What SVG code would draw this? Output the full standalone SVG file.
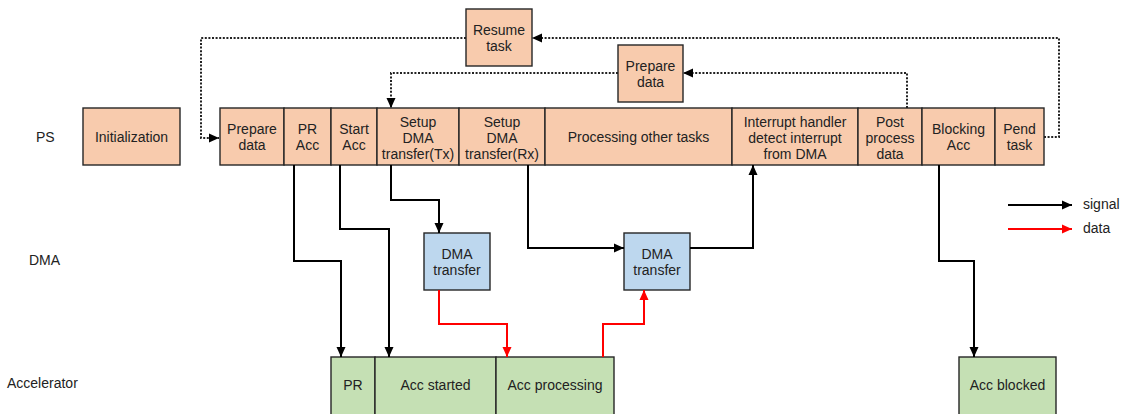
<svg xmlns="http://www.w3.org/2000/svg" width="1124" height="414" viewBox="0 0 1124 414">
<style>
text{font-family:"Liberation Sans",Arial,sans-serif;font-size:14px;fill:#222;text-anchor:middle;dominant-baseline:central}
.lbl{text-anchor:start}
.ps{fill:#F8CBAD;stroke:#262626;stroke-width:1.4}
.dma{fill:#BDD7EE;stroke:#262626;stroke-width:1.4}
.acc{fill:#C5E0B4;stroke:#262626;stroke-width:1.4}
.sig{fill:none;stroke:#000;stroke-width:2}
.dat{fill:none;stroke:#FF0000;stroke-width:2}
.dot{fill:none;stroke:#222;stroke-width:2;stroke-dasharray:2 1.6}
</style>
<defs>
<marker id="ab" markerUnits="userSpaceOnUse" markerWidth="10" markerHeight="10" refX="10" refY="5" orient="auto"><path d="M0,0.5 L10,5 L0,9.5 z" fill="#000"/></marker>
<marker id="ar" markerUnits="userSpaceOnUse" markerWidth="10" markerHeight="10" refX="10" refY="5" orient="auto"><path d="M0,0.5 L10,5 L0,9.5 z" fill="#FF0000"/></marker>
</defs>
<g id="lane-labels">
<text class="lbl" x="36" y="137">PS</text>
<text class="lbl" x="29" y="260">DMA</text>
<text class="lbl" x="7" y="383">Accelerator</text>
</g>
<g id="resume-task"><rect class="ps" x="466" y="9" width="66" height="57"/><text x="499" y="30">Resume</text><text x="499" y="46">task</text></g>
<g id="prepare-data-top"><rect class="ps" x="618" y="45" width="65" height="57"/><text x="650.5" y="66">Prepare</text><text x="650.5" y="82">data</text></g>
<g id="initialization"><rect class="ps" x="83" y="108" width="97" height="57"/><text x="131.5" y="137">Initialization</text></g>
<g id="prepare-data"><rect class="ps" x="220" y="108" width="64" height="57"/><text x="252" y="129">Prepare</text><text x="252" y="145">data</text></g>
<g id="pr-acc"><rect class="ps" x="284" y="108" width="47" height="57"/><text x="307.5" y="129">PR</text><text x="307.5" y="145">Acc</text></g>
<g id="start-acc"><rect class="ps" x="331" y="108" width="46" height="57"/><text x="354" y="129">Start</text><text x="354" y="145">Acc</text></g>
<g id="setup-tx"><rect class="ps" x="377" y="108" width="82" height="57"/><text x="418" y="121.5">Setup</text><text x="418" y="137.5">DMA</text><text x="418" y="153.5">transfer(Tx)</text></g>
<g id="setup-rx"><rect class="ps" x="459" y="108" width="86" height="57"/><text x="502" y="121.5">Setup</text><text x="502" y="137.5">DMA</text><text x="502" y="153.5">transfer(Rx)</text></g>
<g id="processing"><rect class="ps" x="545" y="108" width="187" height="57"/><text x="638.5" y="137">Processing other tasks</text></g>
<g id="interrupt"><rect class="ps" x="732" y="108" width="126" height="57"/><text x="795" y="121.5">Interrupt handler</text><text x="795" y="137.5">detect interrupt</text><text x="795" y="153.5">from DMA</text></g>
<g id="post-process"><rect class="ps" x="858" y="108" width="64" height="57"/><text x="890" y="121.5">Post</text><text x="890" y="137.5">process</text><text x="890" y="153.5">data</text></g>
<g id="blocking-acc"><rect class="ps" x="922" y="108" width="73" height="57"/><text x="958.5" y="129">Blocking</text><text x="958.5" y="145">Acc</text></g>
<g id="pend-task"><rect class="ps" x="995" y="108" width="49" height="57"/><text x="1019.5" y="129">Pend</text><text x="1019.5" y="145">task</text></g>
<g id="dma-transfer-1"><rect class="dma" x="424" y="233" width="66" height="57"/><text x="457" y="254">DMA</text><text x="457" y="270">transfer</text></g>
<g id="dma-transfer-2"><rect class="dma" x="624" y="233" width="66" height="57"/><text x="657" y="254">DMA</text><text x="657" y="270">transfer</text></g>
<g id="acc-pr"><rect class="acc" x="331" y="357" width="44" height="58"/><text x="353" y="385">PR</text></g>
<g id="acc-started"><rect class="acc" x="375" y="357" width="121" height="58"/><text x="435.5" y="385">Acc started</text></g>
<g id="acc-processing"><rect class="acc" x="496" y="357" width="118" height="58"/><text x="555" y="385">Acc processing</text></g>
<g id="acc-blocked"><rect class="acc" x="959" y="357" width="97" height="58"/><text x="1007.5" y="385">Acc blocked</text></g>
<g id="connectors">
<path class="dot" d="M466,38 H201 V138 H219" marker-end="url(#ab)"/>
<path class="dot" d="M1044,137 H1059 V38 H532" marker-end="url(#ab)"/>
<path class="dot" d="M907,108 V73 H683" marker-end="url(#ab)"/>
<path class="dot" d="M618,73 H391 V108" marker-end="url(#ab)"/>
<path class="sig" d="M294,165 V261 H341 V357" marker-end="url(#ab)"/>
<path class="sig" d="M340,165 V229 H389 V357" marker-end="url(#ab)"/>
<path class="sig" d="M391,165 V200 H439 V233" marker-end="url(#ab)"/>
<path class="sig" d="M528,165 V248 H624" marker-end="url(#ab)"/>
<path class="sig" d="M690,248 H753 V165" marker-end="url(#ab)"/>
<path class="sig" d="M939,165 V261 H974 V357" marker-end="url(#ab)"/>
<path class="dat" d="M439,290 V324 H507 V357" marker-end="url(#ar)"/>
<path class="dat" d="M603,357 V324 H644 V290" marker-end="url(#ar)"/>
</g>
<g id="legend">
<path class="sig" d="M1008,205 H1072" marker-end="url(#ab)"/>
<path class="dat" d="M1008,229 H1072" marker-end="url(#ar)"/>
<text class="lbl" x="1083" y="204">signal</text>
<text class="lbl" x="1083" y="228">data</text>
</g>
</svg>
